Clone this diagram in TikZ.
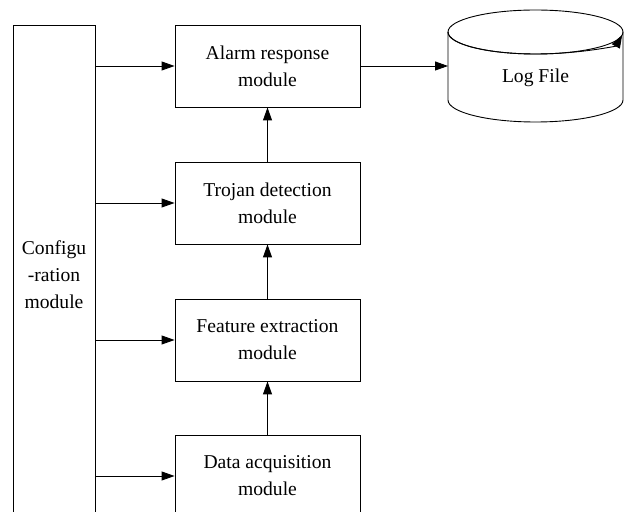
\documentclass[tikz,border=0pt]{standalone}
\usepackage{fontspec}
\setmainfont{Liberation Serif}
\usetikzlibrary{arrows.meta}
\begin{document}
\begin{tikzpicture}[x=1pt,y=1pt,
  lw/.style={line width=0.9pt},
  txt/.style={font=\fontsize{19.6}{27}\selectfont, align=center},
  box/.style={draw, lw, txt, minimum width=185pt, minimum height=82pt, inner sep=0pt},
  arr/.style={lw, -{Triangle[length=13pt,width=9pt]}}]
\clip (0,0) rectangle (625,512);
% configuration module
\node[draw, lw, txt, minimum width=82pt, minimum height=500pt, inner sep=0pt] (config) at (54,237) {Configu\\-ration\\module};
% main boxes
\node[box] (alarm)   at (267.5,446) {Alarm response\\module};
\node[box] (trojan)  at (267.5,309) {Trojan detection\\module};
\node[box] (feature) at (267.5,172) {Feature extraction\\module};
\node[box] (data)    at (267.5,36)  {Data acquisition\\module};
% log file cylinder
\coordinate (topc) at (535.5,480);
\coordinate (botc) at (535.5,412);
\coordinate (log) at (448,446);
\draw[lw] (topc) ellipse[x radius=87.5pt, y radius=22pt];
\draw[lw] ([xshift=-87.5pt]topc) -- ([xshift=-87.5pt]botc)
  arc[start angle=180, end angle=360, x radius=87.5pt, y radius=22pt]
  -- ([xshift=87.5pt]topc);
\draw[arr] ([xshift=-87.5pt]topc) arc[start angle=180, end angle=352, x radius=87.5pt, y radius=22pt];
\node[txt] (logtext) at (535.5,434) {Log File};
% connectors
\draw[arr] (config.east |- alarm.west) -- (alarm.west);
\draw[arr] (config.east |- trojan.west) -- (trojan.west);
\draw[arr] (config.east |- feature.west) -- (feature.west);
\draw[arr] (config.east |- data.west) -- (data.west);
\draw[arr] (data) -- (feature);
\draw[arr] (feature) -- (trojan);
\draw[arr] (trojan) -- (alarm);
\draw[arr] (alarm.east) -- (log);
\end{tikzpicture}
\end{document}
